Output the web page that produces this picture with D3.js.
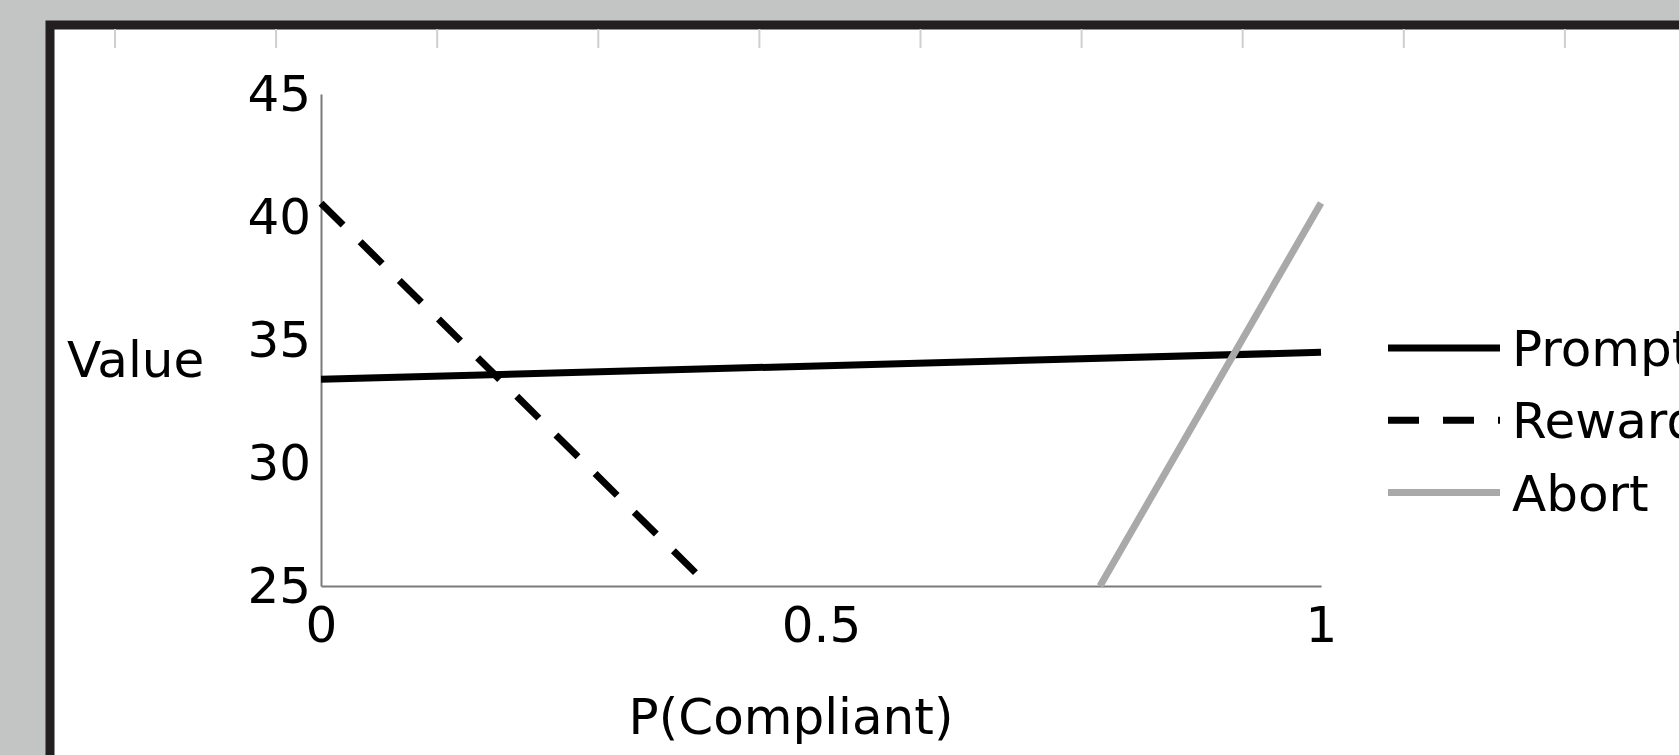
<!DOCTYPE html>
<html>
<head>
<meta charset="utf-8">
<script src="https://cdn.jsdelivr.net/npm/d3@7"></script>
<style>
  html, body { margin: 0; padding: 0; background: #c3c5c4; overflow: hidden; }
  svg { display: block; font-family: "DejaVu Sans", sans-serif; }
</style>
</head>
<body>
<div id="chart"></div>
<script>
// values
const seriesNames = ["Prompt", "Reward", "Abort"];
const promptX = [0, 1];
const promptY = [33.4, 34.5];
const rewardX = [0, 0.388];
const rewardY = [40.56, 25];
const abortX = [0.779, 1];
const abortY = [25, 40.57];
const xTicks = [0, 0.5, 1];
const yTicks = [25, 30, 35, 40, 45];

(function chart(){
  const width = 1679,
  height = 755,
  margin = {top: 94, right: 358, bottom: 169, left: 321};

  const svg = d3.select("#chart")
    .append("svg")
    .attr("width", width)
    .attr("height", height)
    .attr("viewBox", [0, 0, width, height]);

  // the white page with its dark frame
  svg.append("rect")
    .attr("x", 50).attr("y", 25)
    .attr("width", width).attr("height", height)
    .attr("fill", "#fff")
    .attr("stroke", "#231f20")
    .attr("stroke-width", 9);

  // ruler marks along the top of the frame
  svg.append("g")
    .selectAll("line")
    .data(d3.range(115, width, 161.1))
    .join("line")
    .attr("x1", d => d).attr("x2", d => d)
    .attr("y1", 29).attr("y2", 48)
    .attr("stroke", "#cfcfcf")
    .attr("stroke-width", 2);

  let x = d3.scaleLinear([0, 1], [margin.left, width - margin.right]);
  let y = d3.scaleLinear([25, 45], [height - margin.bottom, margin.top]);

  const xAxis = svg.append("g")
    .attr("transform", `translate(0,${height - margin.bottom})`)
    .call(d3.axisBottom(x).tickValues(xTicks).tickFormat(d3.format("")).tickSize(0).tickPadding(20));

  const yAxis = svg.append("g")
    .attr("transform", `translate(${margin.left},0)`)
    .call(d3.axisLeft(y).tickValues(yTicks).tickSize(0).tickPadding(10));

  [xAxis, yAxis].forEach(g => {
    g.attr("font-family", "DejaVu Sans").attr("font-size", 50);
    g.select(".domain").attr("stroke", "#7a7a7a").attr("stroke-width", 2);
    g.selectAll("text").attr("fill", "#000");
  });

  svg.append("text")
    .attr("x", 67)
    .attr("y", y(35) + 37)
    .attr("font-size", 50)
    .text("Value");

  svg.append("text")
    .attr("x", x(0.47))
    .attr("y", 734)
    .attr("text-anchor", "middle")
    .attr("font-size", 50)
    .text("P(Compliant)");

  const series = [
    {name: seriesNames[0], xs: promptX, ys: promptY, color: "#000", dash: null},
    {name: seriesNames[1], xs: rewardX, ys: rewardY, color: "#000", dash: "31,24"},
    {name: seriesNames[2], xs: abortX, ys: abortY, color: "#a9a9a9", dash: null}
  ];

  const line = d3.line()
    .x(d => x(d[0]))
    .y(d => y(d[1]));

  svg.append("g")
    .selectAll("path")
    .data(series)
    .join("path")
    .attr("d", d => line(d3.zip(d.xs, d.ys)))
    .attr("fill", "none")
    .attr("stroke", d => d.color)
    .attr("stroke-width", 7)
    .attr("stroke-dasharray", d => d.dash);

  let legendGroup = svg
    .selectAll(".legend-group")
    .data(series)
    .join("g")
    .attr("class", "legend-group")
    .attr("transform", (d, i) => `translate(1388,${348 + i * 72.3})`);

  legendGroup
    .append("line")
    .attr("x1", 0).attr("x2", 112)
    .attr("stroke", d => d.color)
    .attr("stroke-width", 7)
    .attr("stroke-dasharray", d => d.dash);

  legendGroup
    .append("text")
    .attr("x", 124)
    .attr("dy", "0.36em")
    .attr("font-size", 50)
    .text(d => d.name);
})();
</script>
</body>
</html>
